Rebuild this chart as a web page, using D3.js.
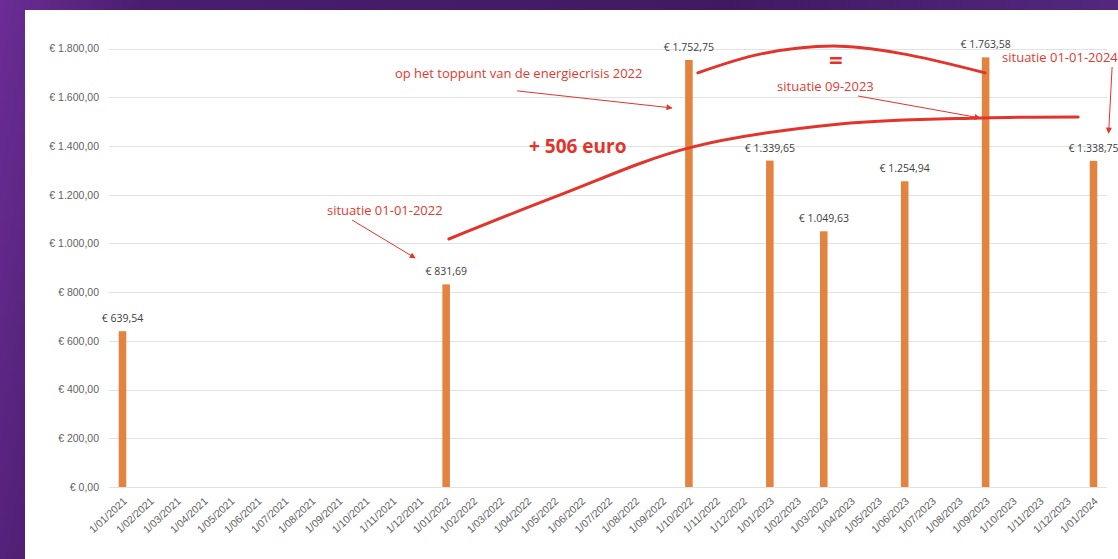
<!DOCTYPE html>
<html>
<head>
<meta charset="utf-8">
<script src="https://cdn.jsdelivr.net/npm/d3@7"></script>
<style>
  html, body { margin: 0; padding: 0; }
  body {
    width: 1118px; height: 559px; overflow: hidden;
    background: linear-gradient(100deg, #6c2d96 0%, #4a1d6e 12%, #3f1a62 60%, #5a2a86 100%);
    font-family: "Open Sans", "Liberation Sans", sans-serif;
  }
  #chart { position: absolute; left: 25px; top: 10px; width: 1093px; height: 549px; background: #fff; }
  .axis text { fill: #5f5f5f; font-size: 10.5px; }
  .grid line { stroke: #e2e2e2; stroke-width: 1; }
  .bar { fill: #e2843f; }
  .val { fill: #404040; font-size: 10.5px; text-anchor: middle; }
  .note { fill: #e3392f; font-size: 13px; }
</style>
</head>
<body>
<div id="chart"></div>
<script>
// months on the x axis
const months = [
  "1/01/2021","1/02/2021","1/03/2021","1/04/2021","1/05/2021","1/06/2021",
  "1/07/2021","1/08/2021","1/09/2021","1/10/2021","1/11/2021","1/12/2021",
  "1/01/2022","1/02/2022","1/03/2022","1/04/2022","1/05/2022","1/06/2022",
  "1/07/2022","1/08/2022","1/09/2022","1/10/2022","1/11/2022","1/12/2022",
  "1/01/2023","1/02/2023","1/03/2023","1/04/2023","1/05/2023","1/06/2023",
  "1/07/2023","1/08/2023","1/09/2023","1/10/2023","1/11/2023","1/12/2023",
  "1/01/2024"
];
// only a few months have a value
const barMonths = ["1/01/2021","1/01/2022","1/10/2022","1/01/2023","1/03/2023","1/06/2023","1/09/2023","1/01/2024"];
const barValues = [639.54, 831.69, 1752.75, 1339.65, 1049.63, 1254.94, 1763.58, 1338.75];
const yTicks = [0, 200, 400, 600, 800, 1000, 1200, 1400, 1600, 1800];

// hand drawn annotations, as [month index, euro value]
const riseCurve = [[12.1, 1018], [16.2, 1198], [21.0, 1392], [26.6, 1490], [31.9, 1515], [35.43, 1519]];
const equalArc = [[21.33, 1700], [23.64, 1777], [26.35, 1810], [28.83, 1780], [31.98, 1700]];
const arrows = [
  [[14.63, 1626], [20.37, 1556]],
  [[8.51, 1096], [10.85, 940]],
  [[27.27, 1605], [31.79, 1515]],
  [[36.69, 1724], [36.56, 1453]]
];
const notes = [
  {text: "op het toppunt van de energiecrisis 2022", at: [10.1, 1679]},
  {text: "situatie 01-01-2022", at: [7.58, 1117]},
  {text: "situatie 09-2023", at: [24.27, 1626]},
  {text: "situatie 01-01-2024", at: [32.61, 1745]}
];

const W = 1093, H = 549;
const svg = d3.select("#chart").append("svg")
    .attr("width", W).attr("height", H);

// chart inner coords are relative to the white panel (left 25, top 10)
const x = d3.scaleBand()
    .domain(months)
    .range([84, 1082])
    .paddingInner(0.72)
    .paddingOuter(0.36);

const y = d3.scaleLinear()
    .domain([0, 1800])
    .range([477, 38.5]);

const fmt = d3.formatLocale({decimal: ",", thousands: ".", grouping: [3], currency: ["€ ", ""]}).format("$,.2f");

// position of a (fractional) month index
const xi = i => x(months[0]) + x.bandwidth() / 2 + i * x.step();

// grid
svg.append("g")
    .attr("class", "grid")
    .selectAll("line")
    .data(yTicks)
    .join("line")
    .attr("x1", 84).attr("x2", 1082)
    .attr("y1", d => Math.round(y(d)) + 0.5)
    .attr("y2", d => Math.round(y(d)) + 0.5);

// y axis labels
const yAxis = svg.append("g")
    .attr("class", "axis")
    .attr("transform", "translate(74,0)")
    .call(d3.axisLeft(y).tickValues(yTicks).tickFormat(fmt).tickSize(0).tickPadding(0));
yAxis.select(".domain").remove();

// x axis labels
const xAxis = svg.append("g")
    .attr("class", "axis")
    .attr("transform", `translate(0,${y(0)})`)
    .call(d3.axisBottom(x).tickSize(0).tickPadding(0));
xAxis.select(".domain").remove();
xAxis.selectAll("text")
    .attr("text-anchor", "end")
    .attr("dy", null)
    .attr("y", 0)
    .attr("transform", "translate(5,15) rotate(-43)");

// bars
const bars = barMonths.map((m, i) => ({m: m, v: barValues[i]}));
svg.selectAll(".bar")
    .data(bars)
    .join("rect")
    .attr("class", "bar")
    .attr("x", d => x(d.m))
    .attr("width", x.bandwidth())
    .attr("y", d => y(d.v))
    .attr("height", d => y(0) - y(d.v));

svg.selectAll(".val")
    .data(bars)
    .join("text")
    .attr("class", "val")
    .attr("x", d => x(d.m) + x.bandwidth() / 2)
    .attr("y", d => y(d.v) - 9)
    .text(d => fmt(d.v));

// annotations
const red = "#e3342b";
svg.append("defs").append("marker")
    .attr("id", "head")
    .attr("viewBox", "0 0 10 10")
    .attr("refX", 9).attr("refY", 5)
    .attr("markerWidth", 10).attr("markerHeight", 6)
    .attr("markerUnits", "userSpaceOnUse")
    .attr("orient", "auto")
    .append("path")
    .attr("d", "M0,0L10,5L0,10Z")
    .attr("fill", red);

const line = d3.line()
    .x(d => xi(d[0]))
    .y(d => y(d[1]))
    .curve(d3.curveCatmullRom);

svg.append("path").datum(riseCurve)
    .attr("d", line)
    .attr("fill", "none").attr("stroke", red).attr("stroke-width", 3).attr("stroke-linecap", "round");

svg.append("path").datum(equalArc)
    .attr("d", line)
    .attr("fill", "none").attr("stroke", red).attr("stroke-width", 3).attr("stroke-linecap", "round");

svg.selectAll(".arrow")
    .data(arrows)
    .join("line")
    .attr("class", "arrow")
    .attr("x1", d => xi(d[0][0])).attr("y1", d => y(d[0][1]))
    .attr("x2", d => xi(d[1][0])).attr("y2", d => y(d[1][1]))
    .attr("stroke", red).attr("stroke-width", 1)
    .attr("marker-end", "url(#head)");

svg.selectAll(".note")
    .data(notes)
    .join("text")
    .attr("class", "note")
    .attr("x", d => xi(d.at[0]))
    .attr("y", d => y(d.at[1]))
    .text(d => d.text);

svg.append("text")
    .attr("x", xi(15.07)).attr("y", y(1371))
    .attr("fill", red).attr("font-size", 19).attr("font-weight", "bold")
    .text("+ 506 euro");

svg.append("text")
    .attr("x", xi(26.45)).attr("y", y(1716))
    .attr("fill", red).attr("font-size", 24).attr("font-weight", "bold")
    .attr("text-anchor", "middle")
    .text("=");
</script>
</body>
</html>
